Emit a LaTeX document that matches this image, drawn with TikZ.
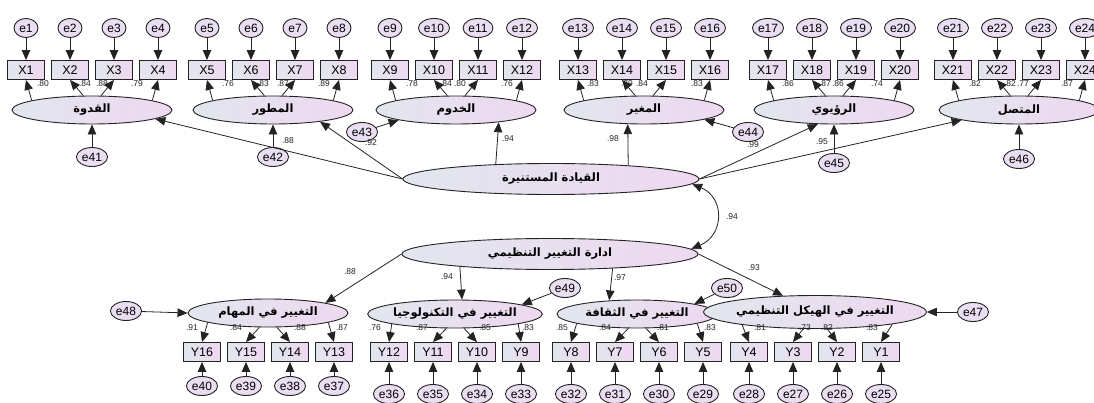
\documentclass[tikz,border=0pt]{standalone}
\usepackage{fontspec}
\setmainfont{Liberation Sans}
\newfontfamily\arabicfont[Script=Arabic]{DejaVu Sans}
\TeXXeTstate=1
\usetikzlibrary{arrows.meta,shapes.geometric,calc}
\definecolor{fillL}{RGB}{226,230,238}
\definecolor{fillR}{RGB}{238,216,240}
\definecolor{errfill}{RGB}{234,222,242}
\definecolor{edge}{RGB}{35,35,35}
\newcommand{\artxt}[1]{{\arabicfont\bfseries\beginR #1\endR}}
\begin{document}
\begin{tikzpicture}[x=1pt,y=-1pt,
 obs/.style={draw=edge,line width=0.9pt,rectangle,minimum width=37pt,minimum height=19pt,inner sep=0pt,left color=fillL,right color=fillR,font=\fontsize{12.5}{12.5}\selectfont},
 err/.style={draw=edge,line width=0.9pt,ellipse,minimum width=24pt,minimum height=19pt,inner xsep=1pt,inner ysep=0.3pt,fill=errfill,font=\fontsize{12}{12}\selectfont},
 lat/.style={draw=edge,line width=0.9pt,ellipse,minimum width=160pt,minimum height=28pt,inner sep=0pt,left color=fillL,right color=fillR,font=\fontsize{11.5}{11.5}\selectfont},
 big/.style={lat,minimum width=296pt,minimum height=31pt},
 arr/.style={draw=edge,line width=0.8pt,-{Triangle[length=10pt,width=8.5pt]}},
 lab/.style={font=\fontsize{8.5}{8.5}\selectfont,inner sep=0pt,text=edge}]
\useasboundingbox (0,0) rectangle (1094,403);
\clip (0,0) rectangle (1094,403);

% ---------- top first-order factors ----------
\node[lat] (L1) at (92,110) {\artxt{القدوة}};
\node[lat] (L2) at (273,110) {\artxt{المطور}};
\node[lat] (L3) at (456,110) {\artxt{الخدوم}};
\node[lat] (L4) at (644,110) {\artxt{المغير}};
\node[lat] (L5) at (834,110) {\artxt{الرؤيوي}};
\node[lat] (L6) at (1019,110) {\artxt{المتصل}};

\foreach \c [count=\g] in {92,273,456,644,834,1019}{
  \foreach \d [count=\j] in {-66,-22,22,66}{
    \pgfmathtruncatemacro\k{(\g-1)*4+\j}
    \node[obs] (X\k) at (\c+\d,70) {X\k};
    \node[err] (e\k) at (\c+\d,28) {e\k};
    \draw[arr] (e\k) -- (X\k);
  }
  \pgfmathtruncatemacro\ka{4*\g-3}
  \pgfmathtruncatemacro\kb{4*\g-2}
  \pgfmathtruncatemacro\kc{4*\g-1}
  \pgfmathtruncatemacro\kd{4*\g}
  \draw[arr] (L\g.171) -- (X\ka.south);
  \draw[arr] (L\g.121.5) -- (X\kb.south);
  \draw[arr] (L\g.58.5) -- (X\kc.south);
  \draw[arr] (L\g.9) -- (X\kd.south);
}

% top loadings
\foreach \x/\t in {43/.80,85/.84,102/.88,137/.79,228/.76,263/.83,283/.87,324/.89,
  412/.78,446/.84,460/.80,507/.76,593/.83,627/.79,642/.84,697/.83,
  788/.86,825/.87,838/.86,877/.74,975/.82,1010/.82,1023/.77,1067/.87}
  \node[lab] at (\x,84) {\t};

% ---------- second-order factors ----------
\node[big] (Q) at (551,179) {\artxt{القيادة المستنيرة}};
\node[big] (M) at (550,254) {\artxt{ادارة التغيير التنظيمي}};

% residuals of top factors
\node[err] (e41) at (92,157) {e41};
\node[err] (e42) at (273,157) {e42};
\node[err] (e43) at (362,132) {e43};
\node[err] (e44) at (748,132) {e44};
\node[err] (e45) at (834,163) {e45};
\node[err] (e46) at (1019,159) {e46};
\draw[arr] (e41) -- (L1.south);
\draw[arr] (e42) -- (L2.south);
\draw[arr] (e43) -- (L3.-170);
\draw[arr] (e44) -- (L4.-9.4);
\draw[arr] (e45) -- (L5.south);
\draw[arr] (e46) -- (L6.south);

% paths from second order factor
\draw[arr] (Q.west) -- (L1.-8);
\draw[arr] (Q.west) -- (L2.-14);
\draw[arr] (Q.165.3) -- (L3.-16.8);
\draw[arr] (Q.10.6) -- (L4.-139.4);
\draw[arr] (Q.east) -- (L5.-139.4);
\draw[arr] (Q.east) -- (L6.-170);
\node[lab] at (288,141) {.88};
\node[lab] at (371,143) {.92};
\node[lab] at (508,139) {.94};
\node[lab] at (613,139) {.98};
\node[lab] at (753,145) {.99};
\node[lab] at (822,142) {.95};

% covariance
\draw[draw=edge,line width=0.8pt,{Triangle[length=10pt,width=8.5pt]}-{Triangle[length=10pt,width=8.5pt]}]
  (Q.-2) .. controls +(33,14) and +(33,-14) .. (M.2);
\node[lab] at (732,217) {.94};

% ---------- bottom first-order factors ----------
\node[lat] (B1) at (268,313) {\artxt{التغيير في المهام}};
\node[lat] (B2) at (455,314) {\artxt{التغيير في التكنولوجيا}};
\node[lat] (B3) at (637,314) {\artxt{التغيير في الثقافة}};
\node[lat,minimum width=186pt,minimum height=33pt] (B4) at (815,312) {\artxt{التغيير في الهيكل التنظيمي}};

\foreach \c/\ey [count=\g] in {268/386,455/394,637/394,815/394}{
  \foreach \d [count=\j] in {-66,-22,22,66}{
    \pgfmathtruncatemacro\k{17-((\g-1)*4+\j)}
    \pgfmathtruncatemacro\m{\k+24}
    \node[obs] (Y\k) at (\c+\d,352) {Y\k};
    \node[err] (e\m) at (\c+\d,\ey) {e\m};
    \draw[arr] (e\m) -- (Y\k);
  }
}
\foreach \g in {1,2,3}{
  \pgfmathtruncatemacro\ka{17-(4*\g-3)}
  \pgfmathtruncatemacro\kb{17-(4*\g-2)}
  \pgfmathtruncatemacro\kc{17-(4*\g-1)}
  \pgfmathtruncatemacro\kd{17-4*\g}
  \draw[arr] (B\g.-171) -- (Y\ka.north);
  \draw[arr] (B\g.-121.5) -- (Y\kb.north);
  \draw[arr] (B\g.-58.5) -- (Y\kc.north);
  \draw[arr] (B\g.-9) -- (Y\kd.north);
}
\draw[arr] (B4.-170.6) -- (Y4.north);
\draw[arr] (B4.-125.2) -- (Y3.north);
\draw[arr] (B4.-54.8) -- (Y2.north);
\draw[arr] (B4.-9.4) -- (Y1.north);

% bottom loadings
\foreach \x/\t in {192/.91,236/.84,300/.88,342/.87,375/.76,422/.87,485/.85,528/.83,
  562/.85,605/.84,663/.81,710/.83,760/.81,805/.73,827/.82,872/.83}
  \node[lab] at (\x,328) {\t};

% residuals of bottom factors
\node[err] (e48) at (126,311) {e48};
\node[err] (e49) at (565,288) {e49};
\node[err] (e50) at (727,288) {e50};
\node[err] (e47) at (973,312) {e47};
\draw[arr] (e48) -- (B1.west);
\draw[arr] (e49) -- (B2.8);
\draw[arr] (e50) -- (B3.10.5);
\draw[arr] (e47) -- (B4.east);

% paths from second order factor (bottom)
\draw[arr] (M.west) -- (B1.10);
\draw[arr] (M.-172.2) -- (B2.64.1);
\draw[arr] (M.-13.2) -- (B3.154.1);
\draw[arr] (M.east) -- (B4.153.4);
\node[lab] at (350,272) {.88};
\node[lab] at (447,277) {.94};
\node[lab] at (620,278) {.97};
\node[lab] at (754,268) {.93};
\end{tikzpicture}
\end{document}
